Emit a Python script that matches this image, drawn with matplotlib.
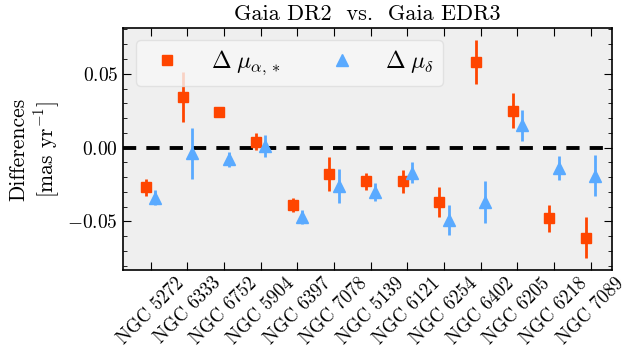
import numpy as np
import matplotlib
matplotlib.use("Agg")
import matplotlib.pyplot as plt
from matplotlib.ticker import MultipleLocator
from matplotlib.lines import Line2D

plt.rcParams['font.family'] = 'serif'
plt.rcParams['font.serif'] = ['cmr10', 'DejaVu Serif']
plt.rcParams['mathtext.fontset'] = 'cm'
plt.rcParams['axes.formatter.use_mathtext'] = True
plt.rcParams['axes.unicode_minus'] = True

clusters = ['NGC 5272', 'NGC 6333', 'NGC 6752', 'NGC 5904', 'NGC 6397', 'NGC 7078',
            'NGC 5139', 'NGC 6121', 'NGC 6254', 'NGC 6402', 'NGC 6205', 'NGC 6218', 'NGC 7089']

d_pmra = [-0.027, 0.034, 0.024, 0.004, -0.039, -0.018, -0.023, -0.023, -0.037, 0.058, 0.025, -0.048, -0.061]
e_pmra = [0.006, 0.017, 0.003, 0.006, 0.005, 0.0115, 0.006, 0.0075, 0.010, 0.015, 0.012, 0.009, 0.014]

d_pmdec = [-0.034, -0.004, -0.008, 0.001, -0.047, -0.026, -0.030, -0.017, -0.049, -0.037, 0.015, -0.014, -0.019]
e_pmdec = [0.005, 0.017, 0.005, 0.0075, 0.005, 0.0115, 0.006, 0.007, 0.010, 0.014, 0.0107, 0.008, 0.0137]

c_ra = '#FF4500'
c_dec = '#5AAAFF'

fig = plt.figure(figsize=(6.26, 3.61), dpi=100)
ax = fig.add_axes([0.1965, 0.252, 0.781, 0.6704])
ax.set_facecolor('#EFEFEF')

x = np.arange(len(clusters))
ax.axhline(0, color='black', lw=2.8, ls=(0, (3.4, 2.6)), zorder=1)

ax.errorbar(x - 0.13, d_pmra, yerr=e_pmra, fmt='s', color=c_ra, ms=7.5,
            elinewidth=2, capsize=0, zorder=3)
ax.errorbar(x + 0.13, d_pmdec, yerr=e_pmdec, fmt='^', color=c_dec, ms=8,
            elinewidth=2, capsize=0, zorder=3)

ax.set_xlim(-0.755, 12.58)
ax.set_ylim(-0.083, 0.081)
ax.set_xticks(x)
ax.set_xticklabels(clusters, rotation=45)
ax.yaxis.set_major_locator(MultipleLocator(0.05))
ax.yaxis.set_minor_locator(MultipleLocator(0.01))
ax.tick_params(axis='both', which='both', direction='in', top=True, right=True)
ax.tick_params(axis='both', which='major', length=6)
ax.tick_params(axis='y', labelsize=14)
ax.tick_params(axis='x', labelsize=13.5, pad=3)
ax.tick_params(axis='y', which='minor', length=3)
for s in ax.spines.values():
    s.set_linewidth(1.2)

ax.set_ylabel('Differences\n' + r'[mas yr$^{-1}$]', fontsize=15.5)
ax.set_title('Gaia DR2  vs.  Gaia EDR3', fontsize=16)

handles = [Line2D([], [], ls='none', marker='s', color=c_ra, ms=7.5),
           Line2D([], [], ls='none', marker='^', color=c_dec, ms=8)]
labels = [r'$\Delta\;\mu_{\alpha,*}$', r'$\Delta\;\mu_\delta$']
leg = ax.legend(handles, labels, loc='upper left', ncol=2, fontsize=17,
                handlelength=1.95, handletextpad=0.85, columnspacing=1.65,
                frameon=True, fancybox=True, borderpad=0.35, borderaxespad=0,
                bbox_to_anchor=(0.027, 0.95), framealpha=0.8)
leg.get_frame().set_facecolor('#F7F7F7')
leg.get_frame().set_edgecolor('#DDDDDD')

plt.savefig('out.png', dpi=100)
